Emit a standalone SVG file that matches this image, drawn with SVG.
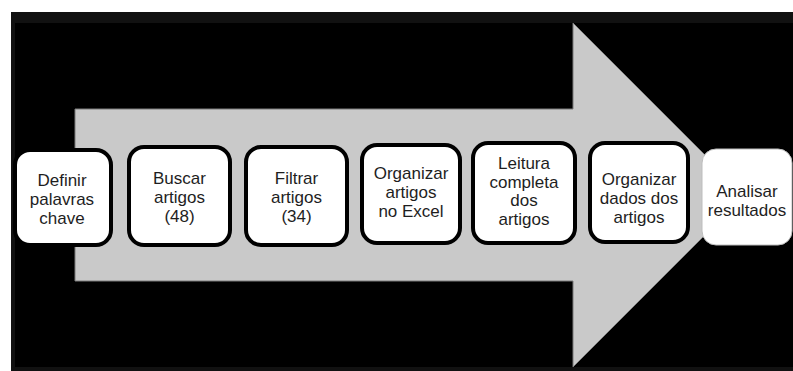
<svg xmlns="http://www.w3.org/2000/svg" width="793" height="371" viewBox="0 0 793 371">
<style>
.box{fill:#ffffff;stroke:#000000;stroke-width:4}
.box-plain{fill:#ffffff;stroke:#bdbdbd;stroke-width:1}
.lbl{font-family:"Liberation Sans",Arial,sans-serif;font-size:17px;fill:#1e1e1e;text-anchor:middle}
</style>
<rect x="0" y="0" width="793" height="371" fill="#ffffff"/>
<rect x="11" y="12" width="782" height="359" fill="#111111"/>
<rect x="15" y="23" width="778" height="344" fill="#000000"/>
<g id="connectors">
<polygon points="75,109 573,109 573,23 745,195 573,367 573,281 75,281" fill="#c9c9c9" stroke="#7a7a7a" stroke-width="1"/>
</g>
<g id="node-1">
<rect class="box" x="15" y="150" width="96" height="95" rx="15" stroke-width="2"/>
<text class="lbl" x="62" y="186">Definir</text>
<text class="lbl" x="62" y="205">palavras</text>
<text class="lbl" x="62" y="224">chave</text>
</g>
<g id="node-2">
<rect class="box" x="129" y="147" width="101" height="98" rx="15"/>
<text class="lbl" x="179.5" y="184">Buscar</text>
<text class="lbl" x="179.5" y="203">artigos</text>
<text class="lbl" x="179.5" y="222">(48)</text>
</g>
<g id="node-3">
<rect class="box" x="246" y="147" width="101" height="98" rx="15"/>
<text class="lbl" x="296.5" y="184">Filtrar</text>
<text class="lbl" x="296.5" y="203">artigos</text>
<text class="lbl" x="296.5" y="222">(34)</text>
</g>
<g id="node-4">
<rect class="box" x="362" y="145" width="98" height="98" rx="15"/>
<text class="lbl" x="411" y="179">Organizar</text>
<text class="lbl" x="411" y="198">artigos</text>
<text class="lbl" x="411" y="217">no Excel</text>
</g>
<g id="node-5">
<rect class="box" x="473" y="143" width="102" height="100" rx="15"/>
<text class="lbl" x="524" y="169">Leitura</text>
<text class="lbl" x="524" y="188">completa</text>
<text class="lbl" x="524" y="206">dos</text>
<text class="lbl" x="524" y="225">artigos</text>
</g>
<g id="node-6">
<rect class="box" x="590" y="143" width="98" height="99" rx="15"/>
<text class="lbl" x="639" y="185">Organizar</text>
<text class="lbl" x="639" y="204">dados dos</text>
<text class="lbl" x="639" y="223">artigos</text>
</g>
<g id="node-7">
<rect class="box-plain" x="702" y="149" width="90" height="96" rx="14"/>
<text class="lbl" x="747" y="197">Analisar</text>
<text class="lbl" x="747" y="216">resultados</text>
</g>
</svg>
